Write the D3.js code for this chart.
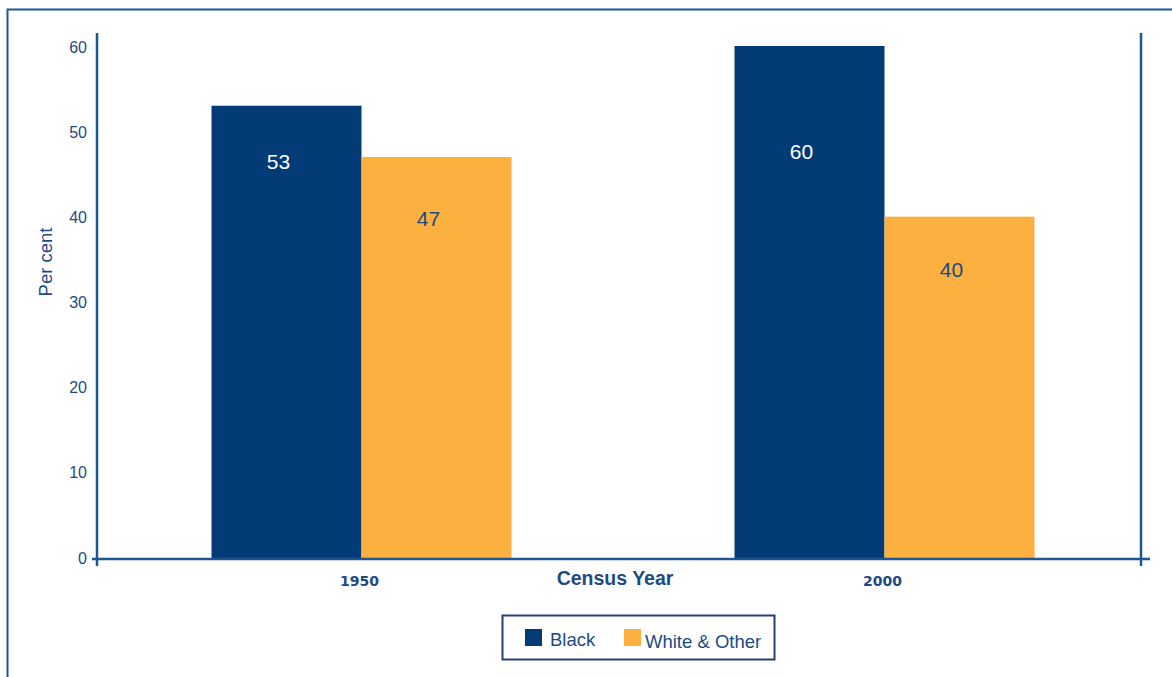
<!DOCTYPE html>
<html>
<head>
<meta charset="utf-8">
<script src="https://cdn.jsdelivr.net/npm/d3@7"></script>
<style>
  html, body { margin: 0; padding: 0; background: #fff; }
  svg { display: block; font-family: "Liberation Sans", Arial, sans-serif; }
</style>
</head>
<body>
<svg id="chart" width="1172" height="677"></svg>
<script>
// Share of population by census year
const years = ["1950", "2000"];
const seriesNames = ["Black", "White & Other"];
const blackValues = [53, 60];
const whiteOtherValues = [47, 40];
const yTicks = [0, 10, 20, 30, 40, 50, 60];

const navy = "#033b77";
const orange = "#fbb040";
const ink = "#1d4a85";
const frame = "#1f5592";

const svg = d3.select("#chart");

// outer frame (open to the right and bottom)
svg.append("path")
  .attr("d", "M7.5,677 L7.5,9.5 L1172,9.5")
  .attr("fill", "none").attr("stroke", frame).attr("stroke-width", 2);

const plotLeft = 97, plotRight = 1141, plotTop = 33, plotBase = 558;

const y = d3.scaleLinear().domain([0, 60]).range([plotBase, 46]);
const x0 = d3.scaleBand().domain(years).range([100, 1146]);
const x1 = d3.scaleBand().domain(seriesNames).range([0, 300]);

const rows = years.map((yr, i) => ({
  year: yr,
  values: [
    { name: seriesNames[0], value: blackValues[i], color: navy },
    { name: seriesNames[1], value: whiteOtherValues[i], color: orange }
  ]
}));

// bars
const groups = svg.append("g").selectAll("g").data(rows).join("g")
  .attr("transform", d => `translate(${x0(d.year) + x0.bandwidth() / 2 - 150},0)`);

groups.selectAll("rect").data(d => d.values).join("rect")
  .attr("x", d => x1(d.name))
  .attr("width", x1.bandwidth())
  .attr("y", d => y(d.value))
  .attr("height", d => plotBase - y(d.value))
  .attr("fill", d => d.color);

// value labels inside the bars
const labelDepth = { "1950": [56, 62], "2000": [106, 53] };
groups.each(function (row) {
  d3.select(this).selectAll("text.val").data(row.values).join("text")
    .attr("class", "val")
    .attr("x", d => x1(d.name) + x1.bandwidth() / 2 - 8)
    .attr("y", (d, j) => y(d.value) + labelDepth[row.year][j] + 7)
    .attr("text-anchor", "middle")
    .attr("font-size", 21)
    .attr("fill", (d, j) => j === 0 ? "#ffffff" : ink)
    .text(d => d.value);
});

// y axis
const yAxis = d3.axisLeft(y.copy().range([plotBase, 47])).tickValues(yTicks).tickSize(0).tickPadding(10);
const gy = svg.append("g").attr("transform", `translate(${plotLeft},0)`).call(yAxis);
gy.select(".domain").remove();
gy.attr("font-family", null).attr("font-size", null);
gy.selectAll("text").attr("font-size", 16).attr("fill", ink);

svg.append("line").attr("x1", plotLeft).attr("x2", plotLeft).attr("y1", plotTop).attr("y2", 566)
  .attr("stroke", frame).attr("stroke-width", 2.5);
svg.append("line").attr("x1", plotRight).attr("x2", plotRight).attr("y1", plotTop).attr("y2", 566)
  .attr("stroke", frame).attr("stroke-width", 2.5);
svg.append("line").attr("x1", 92).attr("x2", 1150).attr("y1", plotBase + 1).attr("y2", plotBase + 1)
  .attr("stroke", frame).attr("stroke-width", 2.5);

// x axis category labels
svg.append("g").selectAll("text").data(years).join("text")
  .attr("x", d => x0(d) + x0.bandwidth() / 2 - 2)
  .attr("y", 586)
  .attr("text-anchor", "middle")
  .style("font-family", "'DejaVu Sans', sans-serif")
  .attr("font-size", 14).attr("font-weight", "bold").attr("fill", ink)
  .text(d => d);

svg.append("text").attr("x", 615).attr("y", 585)
  .attr("text-anchor", "middle").attr("font-size", 19.5).attr("font-weight", "bold")
  .attr("fill", ink).text("Census Year");

svg.append("text")
  .attr("transform", "translate(52,262) rotate(-90)")
  .attr("text-anchor", "middle").attr("font-size", 18.5).attr("fill", ink)
  .text("Per cent");

// legend
const legend = svg.append("g");
legend.append("rect").attr("x", 502.5).attr("y", 615.5).attr("width", 272).attr("height", 44)
  .attr("fill", "#fff").attr("stroke", "#22417a").attr("stroke-width", 2);
const legendItems = [
  { name: seriesNames[0], color: navy, sx: 525, tx: 550, ty: 646 },
  { name: seriesNames[1], color: orange, sx: 624, tx: 645, ty: 648 }
];
legend.selectAll("rect.sw").data(legendItems).join("rect")
  .attr("class", "sw")
  .attr("x", d => d.sx).attr("y", 629).attr("width", 17).attr("height", 17)
  .attr("fill", d => d.color);
legend.selectAll("text").data(legendItems).join("text")
  .attr("x", d => d.tx).attr("y", d => d.ty)
  .attr("font-size", 18.5).attr("fill", ink)
  .text(d => d.name);
</script>
</body>
</html>
